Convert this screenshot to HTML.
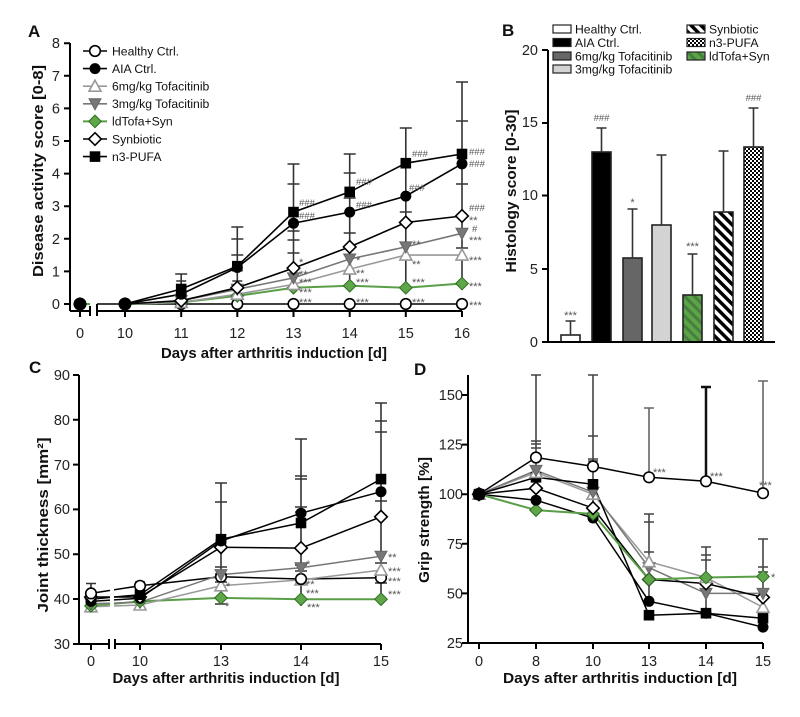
<!DOCTYPE html>
<html><head><meta charset="utf-8"><style>
html,body{margin:0;padding:0;background:#fff;}
svg{display:block;font-family:"Liberation Sans",Arial,sans-serif;}
.tk{font-size:14.5px;fill:#222;}
.tl{font-size:12.2px;fill:#111;}
.ti{font-size:15px;font-weight:bold;fill:#111;}
.pl{font-size:17px;font-weight:bold;fill:#111;}
.an{font-size:9.5px;fill:#555;}
.st{font-size:11px;fill:#555;}
</style></head><body>
<svg width="800" height="717" viewBox="0 0 800 717" xmlns="http://www.w3.org/2000/svg">
<defs>
<g id="oc"><circle r="5.3" fill="#fff" stroke="#000" stroke-width="1.6"/></g>
<g id="fc"><circle r="5.5" fill="#000"/></g>
<g id="fcb"><circle r="6.5" fill="#000"/></g>
<g id="tu"><path d="M0,-6L6,5L-6,5Z" fill="#fff" stroke="#999" stroke-width="1.6"/></g>
<g id="td"><path d="M-6,-5L6,-5L0,6Z" fill="#777" stroke="#666" stroke-width="1"/></g>
<g id="gd"><path d="M0,-6.3L6.3,0L0,6.3L-6.3,0Z" fill="#5ea648" stroke="#2f6d26" stroke-width="1"/></g>
<g id="od"><path d="M0,-6.3L6.3,0L0,6.3L-6.3,0Z" fill="#fff" stroke="#000" stroke-width="1.6"/></g>
<g id="sq"><rect x="-5.3" y="-5.3" width="10.6" height="10.6" fill="#000"/></g>
<pattern id="pSyn" width="7" height="7" patternUnits="userSpaceOnUse" patternTransform="rotate(-45)"><rect width="7" height="7" fill="#fff"/><rect width="3.5" height="7" fill="#000"/></pattern>
<pattern id="pGr" width="7" height="7" patternUnits="userSpaceOnUse" patternTransform="rotate(-45)"><rect width="7" height="7" fill="#5aa546"/><rect width="3" height="7" fill="#4a7d40"/></pattern>
<pattern id="pChk" width="4" height="4" patternUnits="userSpaceOnUse"><rect width="4" height="4" fill="#fff"/><rect width="2" height="2" fill="#000"/><rect x="2" y="2" width="2" height="2" fill="#000"/></pattern>
</defs>
<rect width="800" height="717" fill="#fff"/>

<!-- ================= PANEL A ================= -->
<text class="pl" x="28" y="37">A</text>
<g stroke="#000" stroke-width="2" fill="none">
<path d="M70,43V311"/>
<path d="M64,304H70M64,271.4H70M64,238.8H70M64,206.2H70M64,173.6H70M64,141H70M64,108.4H70M64,75.8H70M64,43.2H70"/>
<path d="M70,311H90M97,311H462"/>
<path d="M90,306V316M97,304V316"/>
<path d="M80,311V317M125,311V317M181.2,311V317M237.3,311V317M293.5,311V317M349.7,311V317M405.8,311V317M462,311V317"/>
</g>
<g class="tk" text-anchor="end">
<text x="60" y="309">0</text><text x="60" y="276.4">1</text><text x="60" y="243.8">2</text><text x="60" y="211.2">3</text><text x="60" y="178.6">4</text><text x="60" y="146">5</text><text x="60" y="113.4">6</text><text x="60" y="80.8">7</text><text x="60" y="48.2">8</text>
</g>
<g class="tk" text-anchor="middle">
<text x="80" y="338">0</text><text x="125" y="338">10</text><text x="181.2" y="338">11</text><text x="237.3" y="338">12</text><text x="293.5" y="338">13</text><text x="349.7" y="338">14</text><text x="405.8" y="338">15</text><text x="462" y="338">16</text>
</g>
<text class="ti" x="274" y="358" text-anchor="middle" textLength="226" lengthAdjust="spacingAndGlyphs">Days after arthritis induction [d]</text>
<text class="ti" transform="translate(43,171) rotate(-90)" text-anchor="middle" textLength="212" lengthAdjust="spacingAndGlyphs">Disease activity score [0-8]</text>

<g fill="none" stroke-width="1.6">
<path d="M80,304H90" stroke="#5a9f48" stroke-width="2"/>
<path d="M97,304H125" stroke="#000"/>
<polyline stroke="#000" points="125,304 181.2,304 237.3,304 293.5,304 349.7,304 405.8,304 462,304"/>
<polyline stroke="#5a9f48" stroke-width="2" points="125,304 181.2,302.4 237.3,295.9 293.5,287.7 349.7,285.7 405.8,287.7 462,283.5"/>
<polyline stroke="#999" points="125,304 181.2,302.4 237.3,294.2 293.5,284.4 349.7,269.1 405.8,255.1 462,255.1"/>
<polyline stroke="#777" points="125,304 181.2,300.7 237.3,289.3 293.5,277.9 349.7,259 405.8,246.9 462,233.3"/>
<polyline stroke="#000" points="125,304 181.2,300.7 237.3,287.7 293.5,268.1 349.7,246.9 405.8,222.5 462,216"/>
<polyline stroke="#000" points="125,304 181.2,294.2 237.3,267.5 293.5,223.2 349.7,212.1 405.8,196.1 462,163.8"/>
<polyline stroke="#000" points="125,304 181.2,289 237.3,266.2 293.5,212.1 349.7,191.9 405.8,163.2 462,154"/>
</g>
<g stroke="#333" stroke-width="1.6" fill="none">
<path d="M181.2,289V274M175.2,274H187.2M176.2,281H186.2"/>
<path d="M237.3,295V227M231.3,227H243.3M231.3,239H243.3M231.3,255H243.3M232.3,262H242.3M232.3,281H242.3"/>
<path d="M293.5,290V164M287.5,164H299.5M287.5,184H299.5M287.5,231H299.5M287.5,240H299.5M287.5,253H299.5"/>
<path d="M349.7,290V154M343.7,154H355.7M343.7,173H355.7M343.7,198H355.7M343.7,233H355.7"/>
<path d="M405.8,290V128M399.8,128H411.8M399.8,212H411.8"/>
<path d="M462,290V82M456,82H468M456,121H468M456,184H468M456,248H468"/>
</g>
<use href="#gd" x="80" y="304"/><use href="#fcb" x="80" y="304"/>
<use href="#gd" x="125" y="304"/><use href="#fcb" x="125" y="304"/>
<use href="#oc" x="181.2" y="304"/><use href="#gd" x="181.2" y="302.4"/><use href="#tu" x="181.2" y="302.4"/><use href="#td" x="181.2" y="300.7"/><use href="#od" x="181.2" y="300.7"/><use href="#fc" x="181.2" y="294.2"/><use href="#sq" x="181.2" y="289"/>
<use href="#oc" x="237.3" y="304"/><use href="#gd" x="237.3" y="295.9"/><use href="#tu" x="237.3" y="294.2"/><use href="#td" x="237.3" y="289.3"/><use href="#od" x="237.3" y="287.7"/><use href="#fc" x="237.3" y="267.5"/><use href="#sq" x="237.3" y="266.2"/>
<use href="#oc" x="293.5" y="304"/><use href="#gd" x="293.5" y="287.7"/><use href="#tu" x="293.5" y="284.4"/><use href="#td" x="293.5" y="277.9"/><use href="#od" x="293.5" y="268.1"/><use href="#fc" x="293.5" y="223.2"/><use href="#sq" x="293.5" y="212.1"/>
<use href="#oc" x="349.7" y="304"/><use href="#gd" x="349.7" y="285.7"/><use href="#tu" x="349.7" y="269.1"/><use href="#td" x="349.7" y="259"/><use href="#od" x="349.7" y="246.9"/><use href="#fc" x="349.7" y="212.1"/><use href="#sq" x="349.7" y="191.9"/>
<use href="#oc" x="405.8" y="304"/><use href="#gd" x="405.8" y="287.7"/><use href="#tu" x="405.8" y="255.1"/><use href="#td" x="405.8" y="246.9"/><use href="#od" x="405.8" y="222.5"/><use href="#fc" x="405.8" y="196.1"/><use href="#sq" x="405.8" y="163.2"/>
<use href="#oc" x="462" y="304"/><use href="#gd" x="462" y="283.5"/><use href="#tu" x="462" y="255.1"/><use href="#td" x="462" y="233.3"/><use href="#od" x="462" y="216"/><use href="#fc" x="462" y="163.8"/><use href="#sq" x="462" y="154"/>
<g class="an">
<text x="299" y="206">###</text><text x="299" y="219">###</text>
<text x="356" y="185">###</text><text x="356" y="208">###</text>
<text x="412" y="157">###</text><text x="409" y="191">###</text>
<text x="469" y="155">###</text><text x="469" y="167">###</text><text x="469" y="211">###</text><text x="472" y="232">#</text>
</g>
<g class="st">
<text x="299" y="266">*</text><text x="299" y="278">**</text><text x="299" y="286">***</text><text x="299" y="296">***</text><text x="299" y="306">***</text>
<text x="356" y="264">*</text><text x="356" y="277">**</text><text x="356" y="286">***</text><text x="356" y="306">***</text>
<text x="412" y="248">**</text><text x="412" y="268">**</text><text x="412" y="286">***</text><text x="412" y="306">***</text>
<text x="469" y="224">**</text><text x="469" y="244">***</text><text x="469" y="264">***</text><text x="469" y="290">***</text><text x="469" y="309">***</text>
</g>
<g stroke-width="1.6" fill="none">
<path d="M83,51H107" stroke="#000"/><path d="M83,68.6H107" stroke="#000"/><path d="M83,86.2H107" stroke="#999"/><path d="M83,103.8H107" stroke="#777"/><path d="M83,121.4H107" stroke="#5a9f48" stroke-width="2"/><path d="M83,139H107" stroke="#000"/><path d="M83,156.6H107" stroke="#000"/>
</g>
<use href="#oc" x="95" y="51"/><use href="#fc" x="95" y="68.6"/><use href="#tu" x="95" y="86.2"/><use href="#td" x="95" y="103.8"/><use href="#gd" x="95" y="121.4"/><use href="#od" x="95" y="139"/><use href="#sq" x="95" y="156.6"/>
<g class="tl">
<text x="112" y="55.3">Healthy Ctrl.</text><text x="112" y="72.9">AIA Ctrl.</text><text x="112" y="90.5">6mg/kg Tofacitinib</text><text x="112" y="108.1">3mg/kg Tofacitinib</text><text x="112" y="125.7">ldTofa+Syn</text><text x="112" y="143.3">Synbiotic</text><text x="112" y="160.9">n3-PUFA</text>
</g>

<!-- ================= PANEL B ================= -->
<text class="pl" x="502" y="36">B</text>
<text class="ti" transform="translate(516,191) rotate(-90)" text-anchor="middle" textLength="163" lengthAdjust="spacingAndGlyphs">Histology score [0-30]</text>
<g class="tk" text-anchor="end">
<text x="538" y="347">0</text><text x="538" y="274">5</text><text x="538" y="200">10</text><text x="538" y="127">15</text><text x="538" y="55">20</text>
</g>
<g stroke="#222" stroke-width="1.6">
<rect x="561" y="335" width="19" height="7" fill="#fff"/>
<rect x="592" y="152" width="19" height="190" fill="#000"/>
<rect x="623" y="258" width="19" height="84" fill="#666"/>
<rect x="652" y="225" width="19" height="117" fill="#d3d3d3"/>
<rect x="683" y="295" width="19" height="47" fill="url(#pGr)"/>
<rect x="714" y="212" width="19" height="130" fill="url(#pSyn)"/>
<rect x="744" y="147" width="19" height="195" fill="url(#pChk)"/>
</g>
<g stroke="#333" stroke-width="1.6" fill="none">
<path d="M570.5,335V321M565.5,321H575.5"/>
<path d="M601.5,152V128M596.5,128H606.5"/>
<path d="M632.5,258V209M627.5,209H637.5"/>
<path d="M661.5,225V155M656.5,155H666.5"/>
<path d="M692.5,295V254M687.5,254H697.5"/>
<path d="M723.5,212V151M718.5,151H728.5"/>
<path d="M753.5,147V108M748.5,108H758.5"/>
</g>
<g stroke="#000" stroke-width="2" fill="none">
<path d="M548,50V342H775"/>
<path d="M542,342H548M542,269H548M542,195.5H548M542,123H548M542,50H548"/>
</g>
<g class="st" text-anchor="middle">
<text x="570.5" y="319">***</text><text x="632.5" y="206">*</text><text x="692.5" y="250">***</text>
</g>
<g class="an" text-anchor="middle">
<text x="601.5" y="121">###</text><text x="753.5" y="101">###</text>
</g>
<g stroke="#222" stroke-width="1.2">
<rect x="553" y="25" width="18" height="8" fill="#fff"/>
<rect x="553" y="38.5" width="18" height="8" fill="#000"/>
<rect x="553" y="52" width="18" height="8" fill="#666"/>
<rect x="553" y="65" width="18" height="8" fill="#d3d3d3"/>
<rect x="687" y="25" width="18" height="8" fill="url(#pSyn)"/>
<rect x="687" y="38.5" width="18" height="8" fill="url(#pChk)"/>
<rect x="687" y="52" width="18" height="8" fill="url(#pGr)"/>
</g>
<g class="tl">
<text x="575" y="33.5">Healthy Ctrl.</text><text x="575" y="47">AIA Ctrl.</text><text x="575" y="60.3">6mg/kg Tofacitinib</text><text x="575" y="73.5">3mg/kg Tofacitinib</text>
<text x="709" y="33.5">Synbiotic</text><text x="709" y="47">n3-PUFA</text><text x="709" y="60.3">ldTofa+Syn</text>
</g>

<!-- ================= PANEL C ================= -->
<text class="pl" x="29" y="373">C</text>
<text class="ti" transform="translate(48,525) rotate(-90)" text-anchor="middle" textLength="175" lengthAdjust="spacingAndGlyphs">Joint thickness  [mm²]</text>
<g class="tk" text-anchor="end">
<text x="70" y="649">30</text><text x="70" y="604">40</text><text x="70" y="559">50</text><text x="70" y="514">60</text><text x="70" y="470">70</text><text x="70" y="425">80</text><text x="70" y="380">90</text>
</g>
<g class="tk" text-anchor="middle">
<text x="91" y="666">0</text><text x="140" y="666">10</text><text x="221" y="666">13</text><text x="301" y="666">14</text><text x="381" y="666">15</text>
</g>
<text class="ti" x="226" y="683" text-anchor="middle" textLength="227" lengthAdjust="spacingAndGlyphs">Days after arthritis induction [d]</text>
<g fill="none" stroke-width="1.5">
<polyline stroke="#000" points="91,593.4 140,585.8 221,576.8 301,579 381,577.7"/>
<polyline stroke="#5a9f48" stroke-width="2" points="91,605.9 140,601.4 221,597.9 301,599.2 381,599.2"/>
<polyline stroke="#999" points="91,606.8 140,605 221,585.8 301,579.9 381,570.1"/>
<polyline stroke="#777" points="91,603.7 140,602.3 221,574.6 301,567.8 381,556.2"/>
<polyline stroke="#000" points="91,597 140,597 221,547.2 301,548.1 381,516.8"/>
<polyline stroke="#000" points="91,601.4 140,598.3 221,541 301,513.2 381,491.7"/>
<polyline stroke="#000" points="91,599.2 140,594.7 221,539.2 301,523 381,479.1"/>
</g>
<rect x="110" y="570" width="4" height="46" fill="#fff"/>
<g stroke="#333" stroke-width="1.6" fill="none">
<path d="M91,583.5V610M86,583.5H96M86,606H96M86,610H96"/>
<path d="M140,582V609M135,582H145M135,589H145M135,609H145"/>
<path d="M221,483V604M215,483H227M215,502H227M215,567H227M215,574H227M215,582H227M215,604H227"/>
<path d="M301,439V606M295,439H307M295,476H307M295,479H307M295,507H307M295,512H307M295,565H307M295,571H307"/>
<path d="M381,403V602M375,403H387M375,421H387M375,432H387M375,501H387M375,563H387M375,583H387"/>
</g>
<use href="#tu" x="91" y="606.8"/><use href="#gd" x="91" y="605.9"/><use href="#td" x="91" y="603.7"/><use href="#fc" x="91" y="601.4"/><use href="#sq" x="91" y="599.2"/><use href="#od" x="91" y="597"/><use href="#oc" x="91" y="593.4"/>
<use href="#tu" x="140" y="605"/><use href="#td" x="140" y="602.3"/><use href="#gd" x="140" y="601.4"/><use href="#fc" x="140" y="598.3"/><use href="#od" x="140" y="597"/><use href="#sq" x="140" y="594.7"/><use href="#oc" x="140" y="585.8"/>
<use href="#gd" x="221" y="597.9"/><use href="#tu" x="221" y="585.8"/><use href="#oc" x="221" y="576.8"/><use href="#td" x="221" y="574.6"/><use href="#od" x="221" y="547.2"/><use href="#fc" x="221" y="541"/><use href="#sq" x="221" y="539.2"/>
<use href="#gd" x="301" y="599.2"/><use href="#tu" x="301" y="579.9"/><use href="#oc" x="301" y="579"/><use href="#td" x="301" y="567.8"/><use href="#od" x="301" y="548.1"/><use href="#sq" x="301" y="523"/><use href="#fc" x="301" y="513.2"/>
<use href="#gd" x="381" y="599.2"/><use href="#oc" x="381" y="577.7"/><use href="#tu" x="381" y="570.1"/><use href="#td" x="381" y="556.2"/><use href="#od" x="381" y="516.8"/><use href="#fc" x="381" y="491.7"/><use href="#sq" x="381" y="479.1"/>
<g stroke="#000" stroke-width="2" fill="none">
<path d="M79,375V644H109M115,644H381"/>
<path d="M109,639V649M115,639V649"/>
<path d="M73,644H79M73,599H79M73,554.2H79M73,509.4H79M73,464.6H79M73,419.8H79M73,375H79"/>
<path d="M91,644V650M140,644V650M221,644V650M301,644V650M381,644V650"/>
</g>
<g class="st">
<text x="226" y="590">*</text><text x="225" y="610">*</text>
<text x="306" y="568">*</text><text x="306" y="588">**</text><text x="306" y="597">***</text><text x="307" y="611">***</text>
<text x="388" y="561">**</text><text x="388" y="575">***</text><text x="388" y="585">***</text><text x="388" y="598">***</text>
</g>

<!-- ================= PANEL D ================= -->
<text class="pl" x="414" y="375">D</text>
<text class="ti" transform="translate(429,520) rotate(-90)" text-anchor="middle" textLength="126" lengthAdjust="spacingAndGlyphs">Grip strength [%]</text>
<g class="tk" text-anchor="end">
<text x="463" y="648">25</text><text x="463" y="598.4">50</text><text x="463" y="548.8">75</text><text x="463" y="499.2">100</text><text x="463" y="449.6">125</text><text x="463" y="400">150</text>
</g>
<g class="tk" text-anchor="middle">
<text x="479" y="666">0</text><text x="536" y="666">8</text><text x="593" y="666">10</text><text x="649" y="666">13</text><text x="706" y="666">14</text><text x="763" y="666">15</text>
</g>
<text class="ti" x="620" y="683" text-anchor="middle" textLength="234" lengthAdjust="spacingAndGlyphs">Days after arthritis induction [d]</text>
<g fill="none" stroke-width="1.5">
<polyline stroke="#000" points="479,494.2 536,457.5 593,466.4 649,477.3 706,481.3 763,493.2"/>
<polyline stroke="#999" points="479,494.2 536,472.4 593,494.2 649,561.7 706,577.5 763,607.3"/>
<polyline stroke="#777" points="479,494.2 536,470.4 593,492.2 649,567.6 706,593.4 763,593.4"/>
<polyline stroke="#000" points="479,494.2 536,488.2 593,508.1 649,579.5 706,583.5 763,597.4"/>
<polyline stroke="#000" points="479,494.2 536,500.2 593,518 649,601.3 706,613.2 763,627.1"/>
<polyline stroke="#000" points="479,494.2 536,477.3 593,484.3 649,615.2 706,613.2 763,618.2"/>
<polyline stroke="#5a9f48" stroke-width="2" points="479,494.2 536,510.1 593,514 649,579.5 706,577.5 763,576.5"/>
</g>
<g stroke="#444" stroke-width="1.6" fill="none">
<path d="M536,375V500M531,375H541M531,441H541M531,444H541M531,448H541"/>
<path d="M593,375V518M588,375H598M588,436H598M588,459H598M588,461H598"/>
<path d="M649,408V477M644,408H654" stroke="#666"/>
<path d="M649,514V601M644,514H654M644,522H654M644,552H654"/>
<path d="M706,387V481M701,387H711" stroke="#111" stroke-width="2.5"/>
<path d="M706,547V613M701,547H711M701,555H711M701,560H711"/>
<path d="M763,381V494M758,381H768" stroke="#666"/>
<path d="M763,539V627M758,539H768M758,567H768M758,572H768"/>
</g>
<use href="#gd" x="479" y="494.2"/><use href="#tu" x="479" y="494.2"/><use href="#od" x="479" y="494.2"/><use href="#sq" x="479" y="494.2"/><use href="#fcb" x="479" y="494.2"/>
<use href="#gd" x="536" y="510.1"/><use href="#fc" x="536" y="500.2"/><use href="#od" x="536" y="488.2"/><use href="#sq" x="536" y="477.3"/><use href="#tu" x="536" y="472.4"/><use href="#td" x="536" y="470.4"/><use href="#oc" x="536" y="457.5"/>
<use href="#fc" x="593" y="518"/><use href="#gd" x="593" y="514"/><use href="#od" x="593" y="508.1"/><use href="#tu" x="593" y="494.2"/><use href="#td" x="593" y="492.2"/><use href="#sq" x="593" y="484.3"/><use href="#oc" x="593" y="466.4"/>
<use href="#sq" x="649" y="615.2"/><use href="#fc" x="649" y="601.3"/><use href="#od" x="649" y="579.5"/><use href="#gd" x="649" y="579.5"/><use href="#td" x="649" y="567.6"/><use href="#tu" x="649" y="561.7"/><use href="#oc" x="649" y="477.3"/>
<use href="#sq" x="706" y="613.2"/><use href="#fc" x="706" y="613.2"/><use href="#td" x="706" y="593.4"/><use href="#od" x="706" y="583.5"/><use href="#tu" x="706" y="577.5"/><use href="#gd" x="706" y="577.5"/><use href="#oc" x="706" y="481.3"/>
<use href="#fc" x="763" y="627.1"/><use href="#sq" x="763" y="618.2"/><use href="#tu" x="763" y="607.3"/><use href="#od" x="763" y="597.4"/><use href="#td" x="763" y="593.4"/><use href="#gd" x="763" y="576.5"/><use href="#oc" x="763" y="493.2"/>
<g stroke="#000" stroke-width="2" fill="none">
<path d="M468,375V643H763"/>
<path d="M462,643H468M462,593.4H468M462,543.8H468M462,494.2H468M462,444.6H468M462,395H468"/>
<path d="M479,643V649M536,643V649M593,643V649M649,643V649M706,643V649M763,643V649"/>
</g>
<g class="st">
<text x="653" y="476">***</text><text x="710" y="480">***</text><text x="759" y="489">***</text><text x="771" y="581">*</text>
</g>
</svg>
</body></html>
